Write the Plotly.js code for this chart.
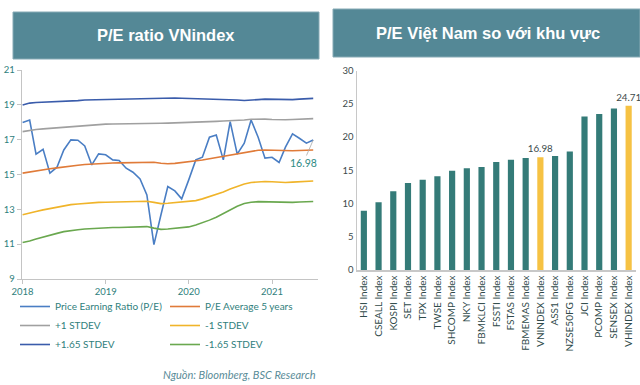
<!DOCTYPE html>
<html>
<head>
<meta charset="utf-8">
<script src="https://cdn.plot.ly/plotly-3.0.1.min.js"></script>
<style>
html,body{margin:0;padding:0;background:#fff;}
#chart{width:640px;height:385px;}
</style>
</head>
<body>
<div id="chart"></div>
<script>
// ---- Left chart: P/E ratio VNindex (monthly) ----
const months = [
 '2018-01-01','2018-02-01','2018-03-01','2018-04-01','2018-05-01','2018-06-01','2018-07-01','2018-08-01','2018-09-01','2018-10-01','2018-11-01','2018-12-01',
 '2019-01-01','2019-02-01','2019-03-01','2019-04-01','2019-05-01','2019-06-01','2019-07-01','2019-08-01','2019-09-01','2019-10-01','2019-11-01','2019-12-01',
 '2020-01-01','2020-02-01','2020-03-01','2020-04-01','2020-05-01','2020-06-01','2020-07-01','2020-08-01','2020-09-01','2020-10-01','2020-11-01','2020-12-01',
 '2021-01-01','2021-02-01','2021-03-01','2021-04-01','2021-05-01','2021-06-01','2021-07-01'
];
const pe = [17.98,18.13,16.17,16.45,15.08,15.42,16.41,16.99,16.97,16.64,15.55,16.18,
            16.13,15.84,15.80,15.36,15.13,14.75,13.83,10.97,12.69,14.31,14.06,13.60,
            14.69,15.84,15.99,17.14,17.27,15.84,18.04,16.17,16.80,18.13,17.14,15.94,
            15.99,15.69,16.57,17.33,17.08,16.80,16.98];
const peAvg5y = [15.08,15.15,15.22,15.28,15.33,15.38,15.44,15.49,15.53,15.57,15.60,15.62,
                 15.64,15.66,15.67,15.68,15.69,15.70,15.71,15.70,15.65,15.62,15.64,15.68,
                 15.71,15.76,15.83,15.90,15.97,16.05,16.14,16.22,16.28,16.35,16.39,16.41,
                 16.40,16.37,16.35,16.36,16.38,16.40,16.41];
const plus1 = [17.46,17.54,17.58,17.62,17.65,17.67,17.70,17.74,17.79,17.83,17.85,17.87,
               17.89,17.90,17.90,17.91,17.92,17.92,17.93,17.94,17.94,17.95,17.96,17.97,
               17.98,17.99,18.00,18.02,18.05,18.07,18.08,18.10,18.13,18.17,18.19,18.18,
               18.16,18.14,18.14,18.16,18.18,18.19,18.21];
const minus1 = [12.69,12.77,12.88,12.97,13.05,13.14,13.21,13.27,13.31,13.35,13.38,13.40,
                13.41,13.42,13.42,13.43,13.44,13.45,13.46,13.40,13.33,13.35,13.38,13.40,
                13.43,13.50,13.60,13.72,13.85,14.00,14.17,14.32,14.45,14.54,14.58,14.60,
                14.58,14.55,14.54,14.56,14.58,14.60,14.63];
const plus165 = [18.99,19.10,19.13,19.15,19.15,19.15,19.17,19.20,19.24,19.28,19.29,19.30,
                 19.31,19.33,19.34,19.34,19.34,19.34,19.35,19.39,19.40,19.40,19.39,19.38,
                 19.37,19.36,19.35,19.34,19.33,19.32,19.30,19.28,19.25,19.26,19.30,19.33,
                 19.32,19.30,19.28,19.30,19.33,19.35,19.37];
const minus165 = [11.10,11.18,11.30,11.42,11.52,11.62,11.72,11.79,11.83,11.87,11.90,11.93,
                  11.95,11.96,11.96,11.97,11.98,11.99,12.01,11.92,11.85,11.87,11.92,11.96,
                  11.99,12.10,12.22,12.38,12.55,12.75,12.98,13.18,13.33,13.41,13.44,13.43,
                  13.40,13.38,13.38,13.40,13.42,13.43,13.45];
const seriesNames = ['Price Earning Ratio (P/E)','P/E Average 5 years','+1 STDEV','-1 STDEV','+1.65 STDEV','-1.65 STDEV'];
const yTicksLeft = [9,11,13,15,17,19,21];

// ---- Right chart: P/E Viet Nam vs region ----
const indices = ['HSI Index','CSEALL Index','KOSPI Index','SET Index','TPX Index','TWSE Index','SHCOMP Index','NKY Index',
                 'FBMKLCI Index','FSSTI Index','FSTAS Index','FBMEMAS Index','VNINDEX Index','ASS1 Index','NZSE50FG Index',
                 'JCI Index','PCOMP Index','SENSEX Index','VHINDEX Index'];
const peRegion = [8.9,10.2,11.85,13.1,13.6,14.1,14.95,15.3,15.5,16.25,16.6,16.85,16.98,17.15,17.85,23.1,23.5,24.3,24.71];
const highlighted = ['VNINDEX Index','VHINDEX Index'];

const W = 640, H = 385;
const px = v => v / W;
const py = v => 1 - v / H;

const teal = '#2f807c';
const lineDefs = [
  {y: pe,       color:'#4a7ec4', legend:'legend'},
  {y: peAvg5y,  color:'#e07b39', legend:'legend2'},
  {y: plus1,    color:'#a0a0a0', legend:'legend'},
  {y: minus1,   color:'#f0b42a', legend:'legend2'},
  {y: plus165,  color:'#3a5cab', legend:'legend'},
  {y: minus165, color:'#6aa84f', legend:'legend2'}
];
const traces = lineDefs.map((d, i) => ({
  type:'scatter', mode:'lines', x: months, y: d.y, name: seriesNames[i],
  line:{color:d.color, width:1.6}, xaxis:'x', yaxis:'y', legend:d.legend, hoverinfo:'skip'
}));

traces.push({
  type:'bar', x: indices, y: peRegion, xaxis:'x2', yaxis:'y2', showlegend:false,
  marker:{color: indices.map(n => highlighted.includes(n) ? '#f6c243' : '#347b78')},
  text: indices.map((n, i) => highlighted.includes(n) ? peRegion[i].toFixed(2) : ''),
  textposition:'outside', cliponaxis:false, constraintext:'none',
  textfont:{family:'Lato, sans-serif', size:9.8, color:'#3c4a4a'},
  hoverinfo:'skip'
});

const last = pe.length - 1;
const layout = {
  width: W, height: H,
  margin:{l:0, r:0, t:0, b:0},
  paper_bgcolor:'#ffffff', plot_bgcolor:'rgba(0,0,0,0)',
  font:{family:'Lato, sans-serif'},
  showlegend:true,
  xaxis:{
    domain:[px(21.7), px(318)], type:'date', range:['2017-12-28','2021-07-22'],
    tickvals:['2018-01-01','2019-01-01','2020-01-01','2021-01-01'], tickformat:'%Y',
    showline:true, linecolor:'#c4c4c4', linewidth:1, ticks:'outside', ticklen:4, tickcolor:'#c4c4c4',
    showgrid:false, zeroline:false, tickfont:{family:'Lato, sans-serif', size:9.5, color:teal}, anchor:'y'
  },
  yaxis:{
    domain:[py(279), py(70)], range:[9,21], tickvals:yTicksLeft,
    showline:true, linecolor:'#c4c4c4', linewidth:1, ticks:'outside', ticklen:4, tickcolor:'#c4c4c4',
    showgrid:false, zeroline:false, tickfont:{family:'Lato, sans-serif', size:9.5, color:teal}, anchor:'x'
  },
  xaxis2:{
    domain:[px(356.5), px(636)], type:'category', anchor:'y2',
    showline:true, linecolor:'#c8c8c8', linewidth:1.5, ticks:'', showgrid:false, zeroline:false,
    tickangle:-90, tickfont:{family:'Lato, sans-serif', size:10, color:'#2f4a4a'}
  },
  yaxis2:{
    domain:[py(270), py(70.7)], range:[0,30], dtick:5, anchor:'x2',
    showline:true, linecolor:'#c8c8c8', linewidth:1, ticks:'', showgrid:false, zeroline:false,
    tickfont:{family:'Lato, sans-serif', size:9.5, color:'#3c4a4a'}
  },
  bargap:0.58,
  legend:{x:px(15), y:py(292), xanchor:'left', yanchor:'top', bgcolor:'rgba(0,0,0,0)',
          font:{family:'Lato, sans-serif', size:10, color:teal}, itemwidth:30, tracegroupgap:0},
  legend2:{x:px(165), y:py(292), xanchor:'left', yanchor:'top', bgcolor:'rgba(0,0,0,0)',
          font:{family:'Lato, sans-serif', size:10, color:teal}, itemwidth:30, tracegroupgap:0},
  shapes:[
    {type:'rect', xref:'paper', yref:'paper', x0:px(13), x1:px(319), y0:py(59), y1:py(12),
     fillcolor:'#548896', line:{color:'#86aab5', width:1}, layer:'below'},
    {type:'rect', xref:'paper', yref:'paper', x0:px(333), x1:px(640), y0:py(57), y1:py(9),
     fillcolor:'#548896', line:{color:'#86aab5', width:1}, layer:'below'}
  ],
  annotations:[
    {xref:'paper', yref:'paper', x:px(166), y:py(35.5), xanchor:'center', yanchor:'middle',
     text:'<b>P/E ratio VNindex</b>', showarrow:false,
     font:{family:'Liberation Sans, Arial, sans-serif', size:16.5, color:'#ffffff'}},
    {xref:'paper', yref:'paper', x:px(488), y:py(33), xanchor:'center', yanchor:'middle',
     text:'<b>P/E Việt Nam so với khu vực</b>', showarrow:false,
     font:{family:'Liberation Sans, Arial, sans-serif', size:16.5, color:'#ffffff'}},
    {xref:'x', yref:'y', x:months[last], y:pe[last], text:pe[last].toFixed(2), showarrow:true,
     arrowhead:0, arrowwidth:0.8, arrowcolor:'#a8a8a8', ax:-10, ay:23,
     font:{family:'Lato, sans-serif', size:10.5, color:'#2e8b84'}},
    {xref:'paper', yref:'paper', x:px(318), y:py(374), xanchor:'right', yanchor:'middle',
     text:'<i>Nguồn: Bloomberg, BSC Research</i>', showarrow:false,
     font:{family:'Lato, sans-serif', size:11, color:'#5a8c98'}}
  ]
};

Plotly.newPlot('chart', traces, layout, {staticPlot:true, displayModeBar:false});
</script>
</body>
</html>
